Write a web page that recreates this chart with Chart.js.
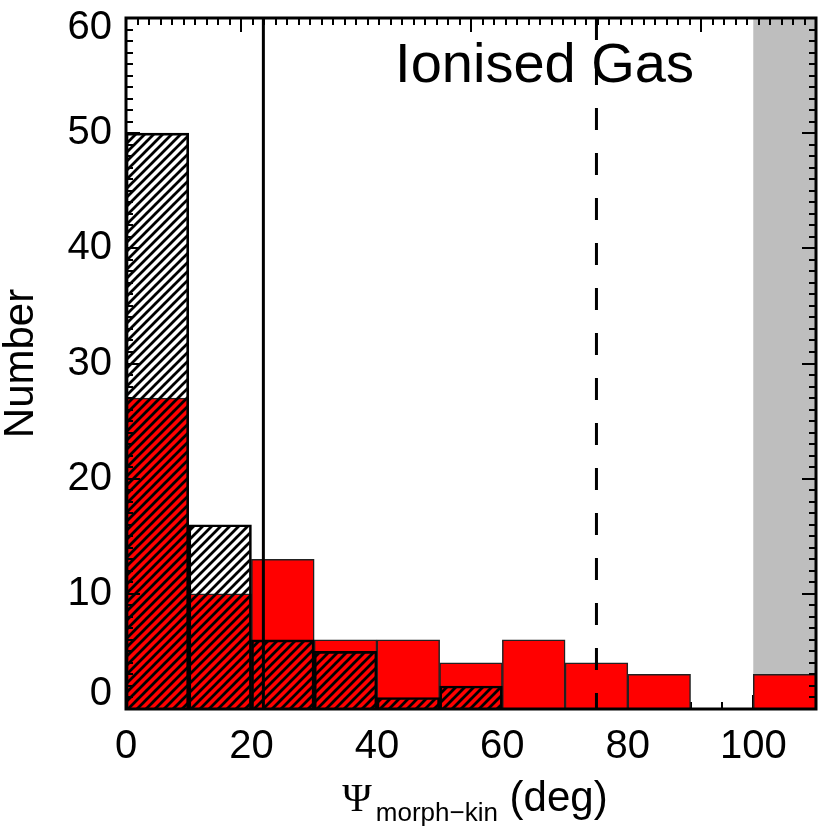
<!DOCTYPE html>
<html><head><meta charset="utf-8">
<script src="https://cdn.jsdelivr.net/npm/chart.js@4.4.1/dist/chart.umd.min.js"></script>
<style>html,body{margin:0;padding:0;background:#fff;overflow:hidden}#wrap{width:830px;height:827px}</style>
</head><body><div id="wrap"><canvas id="c" width="830" height="827"></canvas></div>
<script>
// ---- data ----
const binCenters = [5, 15, 25, 35, 45, 55, 65, 75, 85, 95, 105];
const redCounts = [27, 10, 13, 6, 6, 4, 6, 4, 3, 0, 3];
const hatchCenters = [5, 15, 25, 35, 45, 55];
const hatchCounts = [50, 16, 6, 5, 1, 2];
const xTickValues = [0, 20, 40, 60, 80, 100];
const yTickValues = [0, 10, 20, 30, 40, 50, 60];
const solidLineX = 21.9;
const dashedLineX = 75;
const shadeRange = [100, 110];
const panelTitle = 'Ionised Gas';
const yTitleText = 'Number';
const xTitleSymbol = 'Ψ', xTitleSub = 'morph\u2212kin', xTitleUnit = ' (deg)';

const SANS = '"Liberation Sans", Arial, Helvetica, sans-serif';
const SERIF = '"Liberation Serif", "Times New Roman", serif';
Chart.defaults.font.family = SANS;
Chart.defaults.color = '#000';

function makeHatch() {
  const s = 9;
  const c = document.createElement('canvas');
  c.width = s; c.height = s;
  const g = c.getContext('2d');
  g.strokeStyle = '#000'; g.lineWidth = 2.8; g.lineCap = 'square';
  g.beginPath();
  g.moveTo(0, s); g.lineTo(s, 0);
  g.moveTo(-1, 1); g.lineTo(1, -1);
  g.moveTo(s - 1, s + 1); g.lineTo(s + 1, s - 1);
  g.stroke();
  return document.getElementById('c').getContext('2d').createPattern(c, 'repeat');
}

const deco = {
  id: 'deco',
  beforeDatasetsDraw(chart) {
    const { ctx, chartArea: a, scales: { x } } = chart;
    ctx.save();
    const x0 = x.getPixelForValue(shadeRange[0]), x1 = x.getPixelForValue(shadeRange[1]);
    ctx.fillStyle = '#bebebe';
    ctx.fillRect(x0, a.top, x1 - x0, a.bottom - a.top);
    ctx.strokeStyle = '#000'; ctx.lineWidth = 2;
    ctx.beginPath();
    for (let v = 0; v <= 110; v += 5) {
      const px = Math.round(x.getPixelForValue(v));
      const len = v % 20 === 0 ? 14 : 7;
      ctx.moveTo(px, a.bottom); ctx.lineTo(px, a.bottom - len);
    }
    ctx.stroke();
    ctx.restore();
  },
  afterDatasetsDraw(chart) {
    const { ctx, chartArea: a, scales: { x, y, x2 } } = chart;
    ctx.save();
    // vertical lines
    ctx.strokeStyle = '#000'; ctx.lineWidth = 3;
    let px = x.getPixelForValue(solidLineX);
    ctx.beginPath(); ctx.moveTo(px, a.top); ctx.lineTo(px, a.bottom); ctx.stroke();
    px = x.getPixelForValue(dashedLineX);
    ctx.setLineDash([22, 23]);
    ctx.beginPath(); ctx.moveTo(px, a.top); ctx.lineTo(px, a.bottom); ctx.stroke();
    ctx.setLineDash([]);
    // ticks left/right
    ctx.lineWidth = 2;
    ctx.beginPath();
    for (let v = 0; v <= 60; v += 1) {
      const py = Math.round(y.getPixelForValue(v));
      const len = v % 10 === 0 ? 14 : 7;
      ctx.moveTo(a.left, py); ctx.lineTo(a.left + len, py);
      ctx.moveTo(a.right, py); ctx.lineTo(a.right - len, py);
    }
    // top ticks
    for (let v = 0; v <= 60; v += 1) {
      const qx = Math.round(x2.getPixelForValue(v));
      const len = (v % 20 === 10) ? 14 : 7;
      ctx.moveTo(qx, a.top); ctx.lineTo(qx, a.top + len);
    }
    ctx.stroke();
    // frame
    ctx.lineWidth = 3;
    ctx.strokeRect(a.left, a.top, a.right - a.left, a.bottom - a.top);
    // panel title
    ctx.fillStyle = '#000';
    ctx.font = '56px ' + SANS;
    ctx.textAlign = 'left'; ctx.textBaseline = 'alphabetic';
    ctx.fillText(panelTitle, x.getPixelForValue(42.9), y.getPixelForValue(54.4));
    // end labels of y axis (shifted inward, as in the original)
    ctx.font = '40px ' + SANS;
    ctx.textAlign = 'right'; ctx.textBaseline = 'middle';
    ctx.fillText(String(yTickValues[0]), a.left - 14, y.getPixelForValue(yTickValues[0]) - 15);
    const last = yTickValues[yTickValues.length - 1];
    ctx.fillText(String(last), a.left - 14, y.getPixelForValue(last) + 10);
    // x title
    ctx.textBaseline = 'alphabetic'; ctx.textAlign = 'left';
    const fSym = '40px ' + SERIF, fSub = '26px ' + SANS, fUnit = '42px ' + SANS;
    ctx.font = fSym; const w1 = ctx.measureText(xTitleSymbol).width;
    ctx.font = fSub; const w2 = ctx.measureText(xTitleSub).width;
    ctx.font = fUnit; const w3 = ctx.measureText(xTitleUnit).width;
    const total = w1 + 4 + w2 + w3;
    let sx = (a.left + a.right) / 2 + 4 - total / 2;
    const base = 811;
    ctx.font = fSym; ctx.fillText(xTitleSymbol, sx, base); sx += w1 + 4;
    ctx.font = fSub; ctx.fillText(xTitleSub, sx, base + 10); sx += w2;
    ctx.font = fUnit; ctx.fillText(xTitleUnit, sx, base);
    ctx.restore();
  }
};

const hatch = makeHatch();

new Chart(document.getElementById('c'), {
  type: 'bar',
  data: {
    datasets: [
      {
        label: 'hatched',
        data: hatchCenters.map((c, i) => ({ x: c, y: hatchCounts[i] })),
        backgroundColor: hatch,
        borderColor: '#000',
        borderWidth: 2,
        grouped: false,
        barPercentage: 1,
        categoryPercentage: 1,
        order: 1
      },
      {
        label: 'red',
        data: binCenters.map((c, i) => ({ x: c, y: redCounts[i] })),
        backgroundColor: '#ff0000',
        borderColor: '#222',
        borderWidth: 1.5,
        grouped: false,
        barPercentage: 1,
        categoryPercentage: 1,
        order: 2
      }
    ]
  },
  options: {
    responsive: false,
    animation: false,
    devicePixelRatio: 1,
    layout: { padding: { top: 18, right: 14, left: 0, bottom: 0 } },
    plugins: { legend: { display: false }, tooltip: { enabled: false } },
    scales: {
      x: {
        type: 'linear', position: 'bottom', min: 0, max: 110, offset: false,
        grid: { display: false, drawTicks: false }, border: { display: false },
        afterBuildTicks: s => { s.ticks = xTickValues.map(v => ({ value: v })); },
        ticks: { autoSkip: false, maxRotation: 0, padding: 14, font: { size: 40 }, color: '#000' },
        afterFit: s => { s.height = 118; s.paddingLeft = 0; s.paddingRight = 0; }
      },
      x2: {
        type: 'linear', position: 'top', min: 0, max: 60, display: false, offset: false
      },
      y: {
        type: 'linear', min: 0, max: 60,
        grid: { display: false, drawTicks: false }, border: { display: false },
        afterBuildTicks: s => { s.ticks = yTickValues.map(v => ({ value: v })); },
        ticks: { padding: 14, font: { size: 40 }, color: '#000',
                 callback: v => (v === yTickValues[0] || v === yTickValues[yTickValues.length - 1] ? '' : String(v)) },
        title: { display: true, text: yTitleText, font: { size: 42, lineHeight: 1 }, padding: 0, color: '#000' },
        afterFit: s => { s.width = 126; s.paddingTop = 0; s.paddingBottom = 0; }
      }
    }
  },
  plugins: [deco]
});
</script>
</body></html>
